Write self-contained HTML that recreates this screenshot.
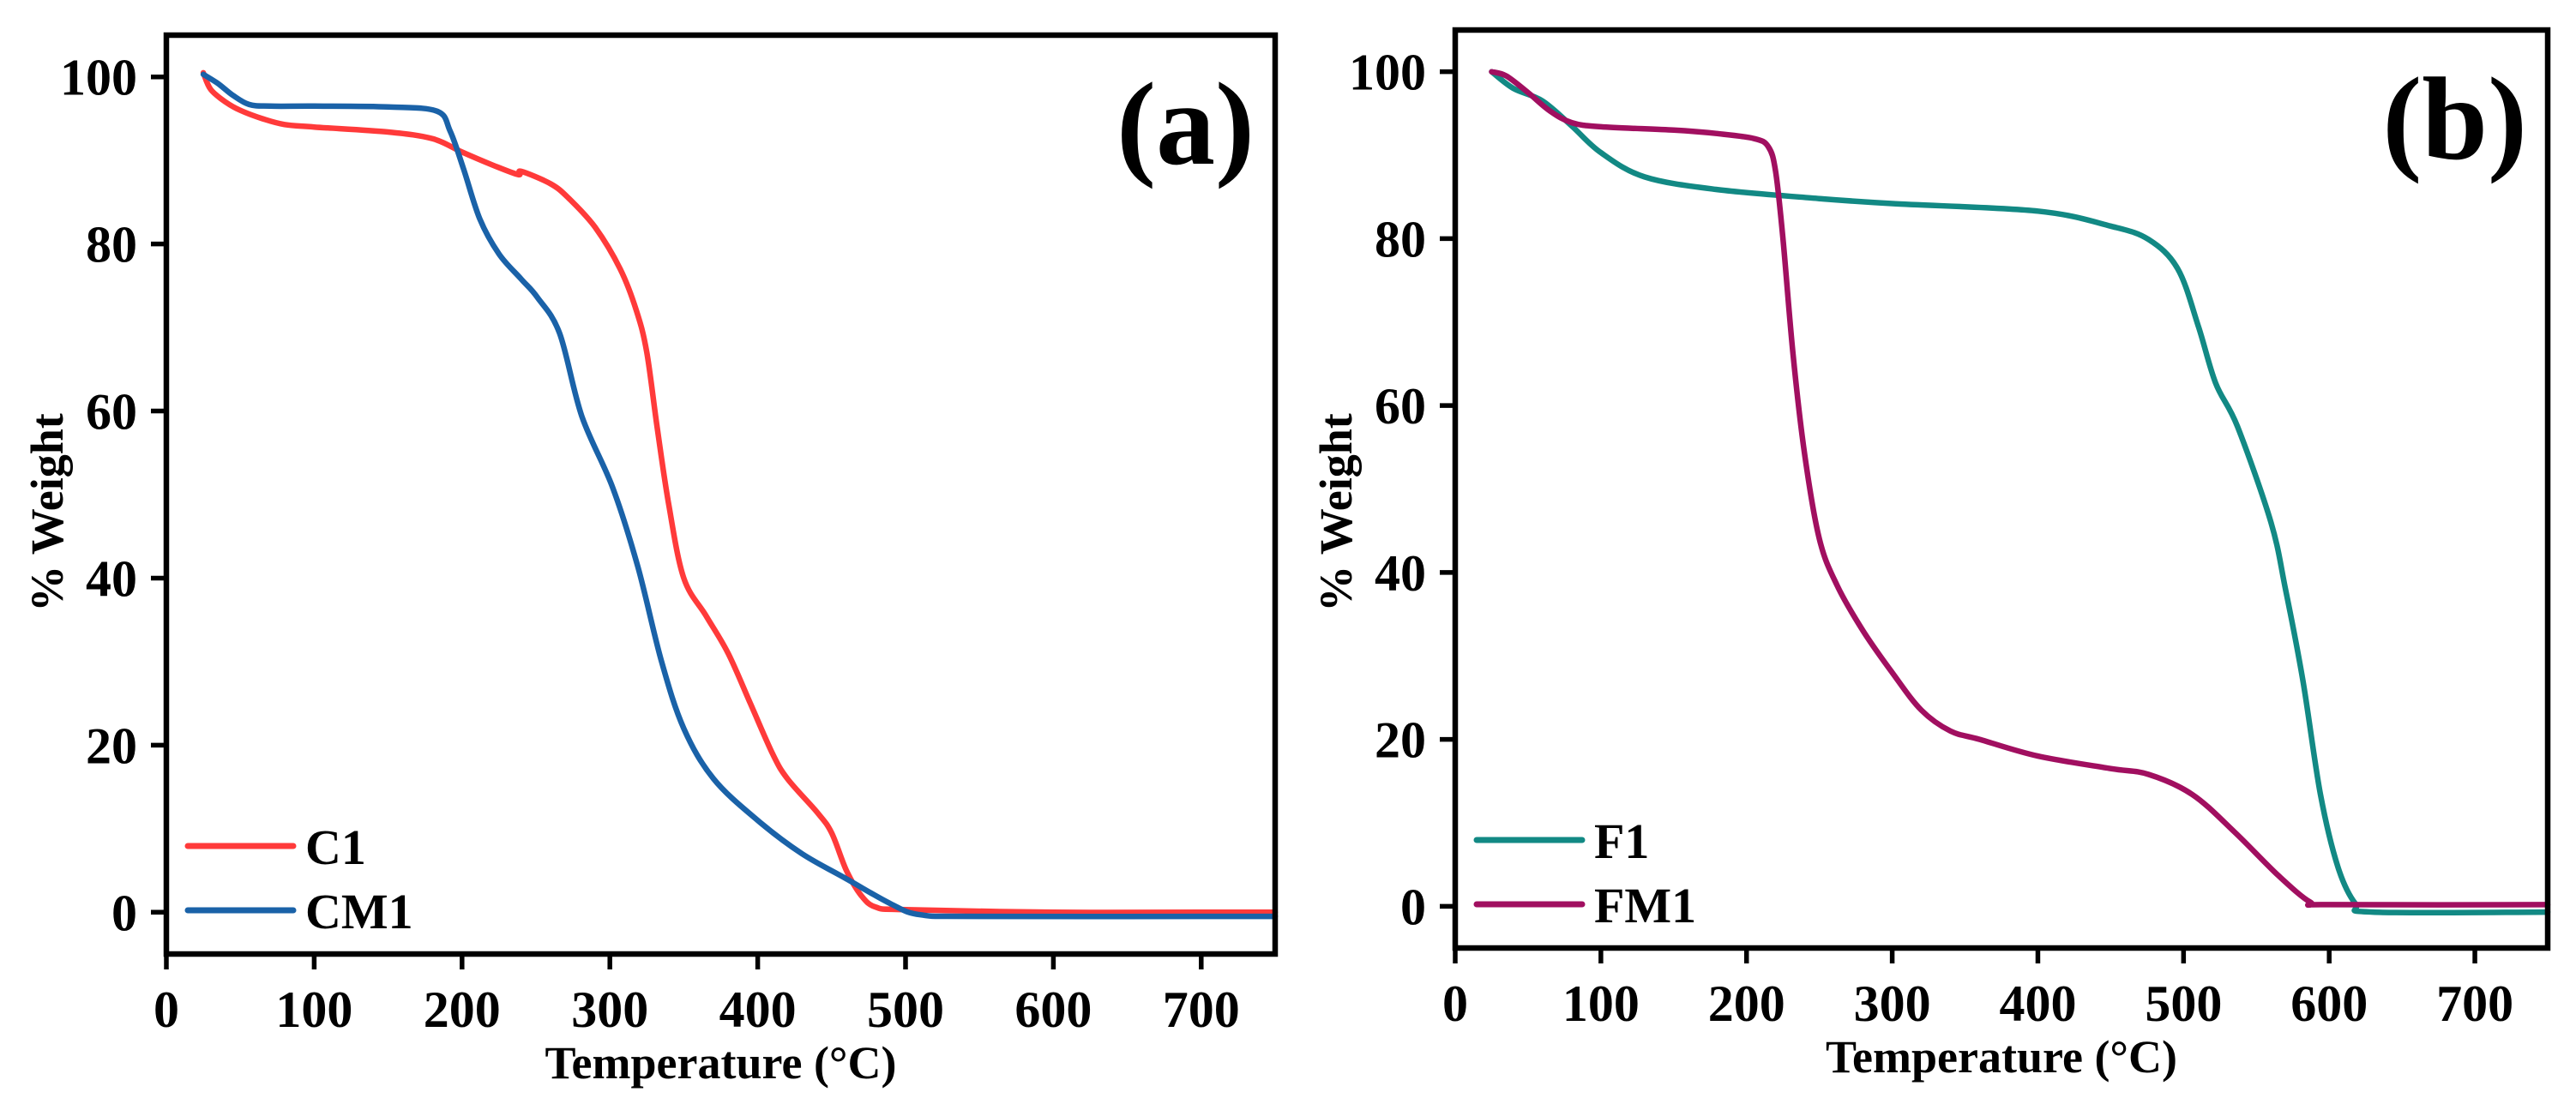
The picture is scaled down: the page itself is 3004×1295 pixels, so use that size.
<!DOCTYPE html>
<html><head><meta charset="utf-8"><style>
html,body{margin:0;padding:0;background:#fff;}
svg{display:block;}
text{font-family:"Liberation Serif",serif;font-weight:bold;fill:#000;}
</style></head><body>
<svg id="fig" width="3004" height="1295" viewBox="0 0 3004 1295" xmlns="http://www.w3.org/2000/svg"></svg>
<script>
// ---- data ----
const xTicks = [0,100,200,300,400,500,600,700];
const yTicks = [0,20,40,60,80,100];
const c1T = [25,30,40,50,65,80,100,150,180,200,220,238,240,260,272,290,307,318,325,332,340,350,365,380,395,410,420,440,450,460,470,480,500,600,700,750];
const c1W = [100.5,98.5,97,96,95,94.3,94,93.4,92.6,91,89.5,88.3,88.7,87.2,85.5,82,77,72,67,58,48.6,40,35.5,31,25,19,16,12,9.5,5,2,0.6,0.3,0,0,0];
const cm1T = [25,35,45,56,70,100,150,183,192,201,212,225,240,251,266,281,302,319,335,350,370,400,430,460,490,510,550,750];
const cm1W = [100.3,99.2,97.8,96.7,96.5,96.5,96.4,95.9,93.5,89,83,78.8,75.8,73.6,69.3,59.4,50.8,41.3,30,22,16,11,7,4,1,-0.3,-0.5,-0.5];
const f1T = [25,40,60,80,100,130,179,250,300,400,450,476,496,510,522,537,560,570,582,594,606,618,630,750];
const f1W = [100,98,96.5,93.5,90.3,87.4,85.9,84.8,84.2,83.3,81.5,79.9,76.4,69.6,62.7,57.5,46,38,27,13.4,4.7,0.3,-0.7,-0.7];
const fm1T = [25,35,50,65,80,100,150,179,205,215,220,225,232,240,250,262,280,300,320,340,360,400,450,476,506,535,565,587,600,750];
const fm1W = [100,99.5,97.5,95.3,93.9,93.4,93,92.6,92,91,88,80,66,54,44,38.5,33,28,23.5,21,20,18,16.5,15.8,13.4,8.9,3.7,0.5,0.2,0.2];
const xRange = [0,750];
const yRange = [-5,105];

const NS = "http://www.w3.org/2000/svg";
const svg = document.getElementById('fig');
function mk(tag, attrs, parent){
  const e = document.createElementNS(NS, tag);
  for (const k in attrs) e.setAttribute(k, attrs[k]);
  (parent||svg).appendChild(e);
  return e;
}
function smoothPath(pts){
  let d = 'M'+pts[0][0].toFixed(1)+','+pts[0][1].toFixed(1);
  for (let i=0;i<pts.length-1;i++){
    const p0=pts[Math.max(0,i-1)], p1=pts[i], p2=pts[i+1], p3=pts[Math.min(pts.length-1,i+2)];
    const c1x=p1[0]+(p2[0]-p0[0])/6, c1y=p1[1]+(p2[1]-p0[1])/6;
    const c2x=p2[0]-(p3[0]-p1[0])/6, c2y=p2[1]-(p3[1]-p1[1])/6;
    d+=' C'+c1x.toFixed(1)+','+c1y.toFixed(1)+' '+c2x.toFixed(1)+','+c2y.toFixed(1)+' '+p2[0].toFixed(1)+','+p2[1].toFixed(1);
  }
  return d;
}
function panel(cfg){
  const g = mk('g',{});
  
  
  const sx = v => cfg.L + (v-xRange[0])/(xRange[1]-xRange[0])*(cfg.R-cfg.L);
  const sy = v => cfg.B - (v-yRange[0])/(yRange[1]-yRange[0])*(cfg.B-cfg.T);
  cfg.series.forEach(s=>{
    const pts = s.t.map((t,i)=>[sx(t), sy(s.w[i])]);
    const p = mk('path',{d:smoothPath(pts),fill:'none',stroke:s.color,'stroke-width':6.5,'stroke-linejoin':'round','stroke-linecap':'round'},g);
    
    
  });
  const fr = mk('rect',{x:cfg.L,y:cfg.T,width:cfg.R-cfg.L,height:cfg.B-cfg.T,fill:'none',stroke:'#000','stroke-width':6.5},g);
  
  
  xTicks.forEach(v=>{
    const x = sx(v);
    const tk = mk('line',{x1:x,x2:x,y1:cfg.B,y2:cfg.B+18,stroke:'#000','stroke-width':5.5},g);
    
    
    const tl = mk('text',{x:x,y:cfg.B+85,'text-anchor':'middle','font-size':60},g);
    tl.textContent = v;
    
    
  });
  yTicks.forEach(v=>{
    const y = sy(v);
    const tk = mk('line',{x1:cfg.L-18,x2:cfg.L,y1:y,y2:y,stroke:'#000','stroke-width':5.5},g);
    
    
    const tl = mk('text',{x:cfg.L-34,y:y+21,'text-anchor':'end','font-size':60},g);
    tl.textContent = v;
    
    
  });
  const xt = mk('text',{x:(cfg.L+cfg.R)/2,y:cfg.B+145,'text-anchor':'middle','font-size':54},g);
  xt.textContent = 'Temperature (°C)';
  
  
  const yx = cfg.L-121, yy = 598;
  const yt = mk('text',{x:yx,y:yy,'text-anchor':'middle','font-size':54,transform:'rotate(-90 '+yx+' '+yy+')'},g);
  yt.textContent = '% Weight';
  
  
  const pl = mk('text',{x:cfg.R-24,y:cfg.T+150,'text-anchor':'end','font-size':138},g);
  pl.textContent = cfg.label;
  
  
  cfg.series.forEach((s,i)=>{
    const ly = cfg.legY + i*75;
    const ll = mk('line',{x1:cfg.L+25,x2:cfg.L+148,y1:ly,y2:ly,stroke:s.color,'stroke-width':7,'stroke-linecap':'round'},g);
    
    
    const lt = mk('text',{x:cfg.L+162,y:ly+21,'font-size':58},g);
    lt.textContent = s.label;
    
    
  });
}
panel({name:'panel-a', label:'(a)', L:194, R:1487, T:41, B:1113, legY:987,
  series:[{key:'c1',label:'C1',color:'#ff3a3a',t:c1T,w:c1W},{key:'cm1',label:'CM1',color:'#1a62a8',t:cm1T,w:cm1W}]});
panel({name:'panel-b', label:'(b)', L:1697, R:2971, T:35, B:1106, legY:980,
  series:[{key:'f1',label:'F1',color:'#128984',t:f1T,w:f1W},{key:'fm1',label:'FM1',color:'#a10f60',t:fm1T,w:fm1W}]});
</script>
</body></html>
